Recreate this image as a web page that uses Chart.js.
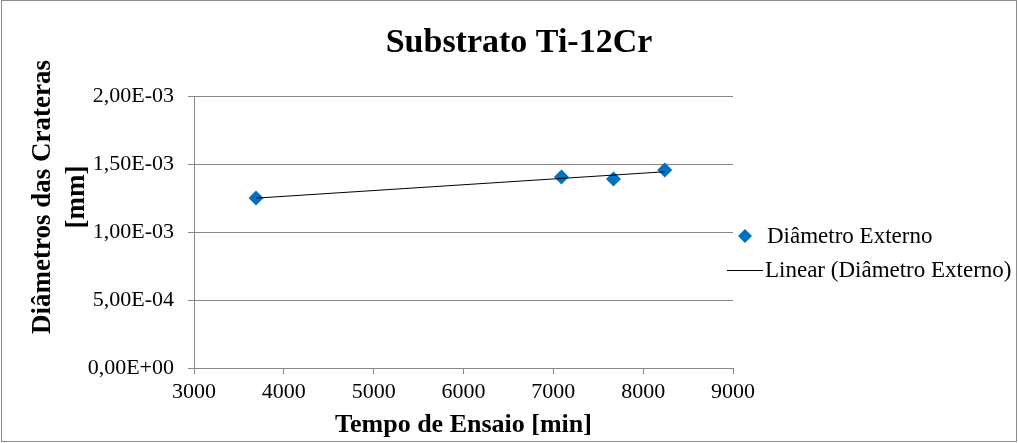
<!DOCTYPE html>
<html>
<head>
<meta charset="utf-8">
<script src="https://cdn.jsdelivr.net/npm/chart.js@4/dist/chart.umd.min.js"></script>
<style>
	html, body { margin: 0; padding: 0; background: #fff; }
	#wrap { width: 1018px; height: 443px; }
</style>
</head>
<body>
<div id="wrap"><canvas id="crateraChart"></canvas></div>
<script>
// dados
var tempoEnsaio = [3690, 7090, 7670, 8240];
var diametroExterno = [1.25e-3, 1.404e-3, 1.39e-3, 1.456e-3];
var linearX = [3690, 8240];
var linearY = [1.249e-3, 1.443e-3];
var legendLabels = ['Diâmetro Externo', 'Linear (Diâmetro Externo)'];
var chartTitle = 'Substrato Ti-12Cr';
var yTitle = ['Diâmetros das Crateras', '[mm]'];

var serif = "'Liberation Serif', 'Times New Roman', serif";
var gridColor = '#868686';
var pointColor = '#0070C0';

function formatSci(v) {
	var parts = Number(v).toExponential(2).split('e');
	var exp = parseInt(parts[1], 10);
	var sign = exp < 0 ? '-' : '+';
	var e = String(Math.abs(exp));
	if (e.length < 2) e = '0' + e;
	return parts[0].replace('.', ',') + 'E' + sign + e;
}

function toPoints(xs, ys) {
	return xs.map(function (x, i) { return { x: x, y: ys[i] }; });
}

// moldura, títulos e legenda
var framePlugin = {
	id: 'frame',
	beforeDraw: function (chart) {
		var ctx = chart.ctx;
		ctx.save();
		ctx.fillStyle = '#fff';
		ctx.fillRect(0, 0, chart.width, chart.height);
		ctx.restore();
	},
	afterDraw: function (chart) {
		var ctx = chart.ctx;
		var area = chart.chartArea;
		ctx.save();
		ctx.strokeStyle = '#8c8c8c';
		ctx.lineWidth = 1;
		ctx.strokeRect(1.5, 0.5, chart.width - 3, chart.height - 2);

		// título
		ctx.fillStyle = '#000';
		ctx.font = 'bold 34px ' + serif;
		ctx.textAlign = 'center';
		ctx.textBaseline = 'alphabetic';
		ctx.fillText(chartTitle, chart.width / 2 + 10, 52);

		// título do eixo y (centrado como no Excel, acima do meio)
		ctx.save();
		ctx.font = 'bold 27px ' + serif;
		ctx.textBaseline = 'middle';
		ctx.translate(0, 197);
		ctx.rotate(-Math.PI / 2);
		ctx.fillText(yTitle[0], 0, 43);
		ctx.fillText(yTitle[1], 0, 77);
		ctx.restore();

		// legenda
		ctx.textAlign = 'left';
		ctx.font = '23px ' + serif;
		ctx.textBaseline = 'middle';
		var x0 = area.right + 12;
		var y1 = 236, y2 = 270;
		ctx.fillStyle = pointColor;
		ctx.beginPath();
		ctx.moveTo(x0, y1 - 7);
		ctx.lineTo(x0 + 7, y1);
		ctx.lineTo(x0, y1 + 7);
		ctx.lineTo(x0 - 7, y1);
		ctx.closePath();
		ctx.fill();
		ctx.fillStyle = '#000';
		ctx.fillText(legendLabels[0], x0 + 22, y1 + 1);
		ctx.strokeStyle = '#000';
		ctx.beginPath();
		ctx.moveTo(x0 - 18, y2 + 0.5);
		ctx.lineTo(x0 + 18, y2 + 0.5);
		ctx.stroke();
		ctx.fillText(legendLabels[1], x0 + 20, y2 + 1);
		ctx.restore();
	}
};

function loadCrateraChart() {
	var el = document.getElementById('crateraChart');
	var chart = new Chart(el, {
		type: 'scatter',
		data: {
			datasets: [
			{
				type: 'line',
				label: legendLabels[1],
				data: toPoints(linearX, linearY),
				borderColor: '#000',
				borderWidth: 1,
				pointRadius: 0,
				fill: false,
				order: 0
			},
			{
				label: legendLabels[0],
				data: toPoints(tempoEnsaio, diametroExterno),
				backgroundColor: pointColor,
				borderColor: pointColor,
				borderWidth: 0,
				pointStyle: 'rectRot',
				pointRadius: 7.5,
				order: 1
			}
			]
		},
		options: {
			responsive: true,
			maintainAspectRatio: false,
			animation: false,
			layout: { padding: { top: 96, right: 285, bottom: 0, left: 0 } },
			plugins: {
				legend: { display: false },
				tooltip: { enabled: false },
				title: { display: false }
			},
			scales: {
				x: {
					type: 'linear',
					min: 3000,
					max: 9000,
					ticks: {
						stepSize: 1000,
						color: '#000',
						padding: 5,
						font: { family: serif, size: 22 },
						maxRotation: 0,
						callback: function (v) { return String(v); }
					},
					grid: { drawOnChartArea: false, color: gridColor, tickLength: 6 },
					border: { color: gridColor },
					title: {
						display: true,
						text: 'Tempo de Ensaio [min]',
						color: '#000',
						font: { family: serif, size: 26, weight: 'bold' },
						padding: { top: 0, bottom: 2 }
					},
					afterFit: function (s) { s.height = 75; }
				},
				y: {
					min: 0,
					max: 0.002,
					ticks: {
						stepSize: 0.0005,
						color: '#000',
						padding: 14,
						font: { family: serif, size: 22 },
						callback: function (v) { return formatSci(v); }
					},
					grid: { color: gridColor, tickLength: 6 },
					border: { color: gridColor },
					title: { display: false },
					afterFit: function (s) { s.width = 194; }
				}
			}
		},
		plugins: [framePlugin]
	});
	window.crateraChart = chart;
}
loadCrateraChart();
</script>
</body>
</html>
